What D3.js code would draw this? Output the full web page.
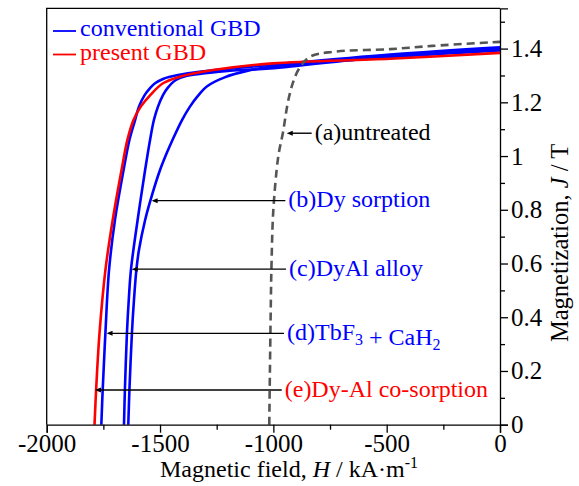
<!DOCTYPE html>
<html>
<head>
<meta charset="utf-8">
<script src="https://cdn.jsdelivr.net/npm/d3@7"></script>
<style>
  body { margin: 0; background: #fff; }
  svg { display: block; font-family: "Liberation Serif", "Times New Roman", serif; }
</style>
</head>
<body>
<svg id="chart" width="579" height="486"></svg>
<script>
// Demagnetization curves, H in kA/m, J in T
var hA = [-1018, -1012, -1008, -1000, -978, -958, -934, -912, -886, -838, -736, -485, -300, 0];
var jA = [0, 0.4, 0.6, 0.8, 1.0, 1.086, 1.208, 1.277, 1.326, 1.37, 1.388, 1.398, 1.41, 1.425];

var hB = [-1640, -1635, -1624, -1615, -1604, -1593, -1566, -1542, -1500, -1465, -1445, -1403, -1368, -1332, -1292, -1215, -1112, -1015, -485, 0];
var jB = [0, 0.129, 0.341, 0.464, 0.579, 0.65, 0.761, 0.836, 0.948, 1.022, 1.06, 1.134, 1.184, 1.225, 1.26, 1.293, 1.318, 1.332, 1.368, 1.393];

var hC = [-1659, -1655, -1646, -1638, -1628, -1599, -1566, -1544, -1527, -1509, -1487, -1467, -1430, -1385, -1301, -1191, -1015, -485, 0];
var jC = [0, 0.129, 0.341, 0.464, 0.579, 0.761, 0.947, 1.06, 1.134, 1.184, 1.227, 1.253, 1.283, 1.298, 1.308, 1.318, 1.326, 1.372, 1.4];

var hD = [-1759, -1753, -1741, -1725, -1699, -1661, -1635, -1610, -1593, -1568, -1544, -1522, -1487, -1456, -1377, -1257, -1015, -485, 0];
var jD = [0, 0.129, 0.341, 0.575, 0.761, 0.947, 1.06, 1.134, 1.184, 1.227, 1.253, 1.271, 1.287, 1.295, 1.308, 1.32, 1.339, 1.378, 1.405];

var hE = [-1789, -1782, -1767, -1741, -1709, -1670, -1644, -1617, -1585, -1543, -1487, -1414, -1266, -1002, -485, 0];
var jE = [0, 0.129, 0.341, 0.575, 0.761, 0.947, 1.06, 1.134, 1.184, 1.227, 1.271, 1.295, 1.32, 1.345, 1.362, 1.384];

// Annotations: label, J level of the arrow, arrow tip and tail (H)
var annLabels = ["(a)untreated", "(b)Dy sorption", "(c)DyAl alloy", "(d)TbF3 + CaH2", "(e)Dy-Al co-sorption"];
var annJ = [1.085, 0.834, 0.579, 0.34, 0.129];
var annTipH = [-941, -1537, -1625, -1736, -1787];
var annTailH = [-831, -947, -944, -953, -963];

var legendLabels = ["conventional GBD", "present GBD"];

var xTicks = [-2000, -1500, -1000, -500, 0];
var xMinor = [-1750, -1250, -750, -250];
var yTicks = [0, 0.2, 0.4, 0.6, 0.8, 1, 1.2, 1.4];
var yMinor = [0.1, 0.3, 0.5, 0.7, 0.9, 1.1, 1.3, 1.5];

(function(){
    var blue = "#0000ff", red = "#ff0000", grey = "#555555";

    var svg = d3.select("#chart");

    //Plot area
    var pL = 46.7, pR = 500, pT = 8.3, pB = 424.7;

    var x = d3.scaleLinear().domain([-2000, 0]).range([pL, pR]);
    var y = d3.scaleLinear().domain([0, 1.55]).range([pB, pT]);

    var line = d3.line()
        .x(function(d){ return x(d[0]); })
        .y(function(d){ return y(d[1]); })
        .curve(d3.curveCatmullRom.alpha(0.5));

    function pairs(h, j){
        return h.map(function(v, i){ return [v, j[i]]; });
    }

    //Frame top and left
    svg.append("path")
        .attr("d", "M" + pL + "," + pB + "V" + pT + "H" + pR)
        .attr("fill", "none")
        .attr("stroke", "#000")
        .attr("stroke-width", 1.3);

    //Curves
    var curves = [
        {d: pairs(hB, jB), c: blue},
        {d: pairs(hC, jC), c: blue},
        {d: pairs(hD, jD), c: blue},
        {d: pairs(hE, jE), c: red}
    ];
    curves.forEach(function(cv){
        svg.append("path")
            .attr("d", line(cv.d))
            .attr("fill", "none")
            .attr("stroke", cv.c)
            .attr("stroke-width", 2.6);
    });

    svg.append("path")
        .attr("d", line(pairs(hA, jA)))
        .attr("fill", "none")
        .attr("stroke", grey)
        .attr("stroke-width", 2.6)
        .attr("stroke-dasharray", "8,5");

    //Axes
    function fmt(d){ return String(+d.toFixed(1)); }

    svg.append("g")
        .attr("transform", "translate(0," + pB + ")")
        .call(d3.axisBottom(x).tickValues(xTicks).tickSize(8).tickPadding(2).tickFormat(fmt));
    svg.append("g")
        .attr("transform", "translate(0," + pB + ")")
        .call(d3.axisBottom(x).tickValues(xMinor).tickSize(5).tickFormat(""))
        .select(".domain").remove();

    svg.append("g")
        .attr("transform", "translate(" + pR + ",0)")
        .call(d3.axisRight(y).tickValues(yTicks).tickSize(8).tickPadding(3).tickFormat(fmt));
    svg.append("g")
        .attr("transform", "translate(" + pR + ",0)")
        .call(d3.axisRight(y).tickValues(yMinor).tickSize(5).tickFormat(""))
        .select(".domain").remove();

    svg.selectAll(".tick line").attr("stroke-width", 1.3);
    svg.selectAll(".domain").attr("stroke-width", 1.3);
    svg.selectAll(".tick text")
        .attr("font-family", "Liberation Serif")
        .attr("font-size", 25)
        .attr("fill", "#000");

    //Axis titles
    var xt = svg.append("text")
        .attr("x", 289)
        .attr("y", 477)
        .attr("text-anchor", "middle")
        .attr("font-size", 24);
    xt.append("tspan").text("Magnetic field, ");
    xt.append("tspan").attr("font-style", "italic").text("H");
    xt.append("tspan").text(" / kA\u00b7m");
    xt.append("tspan").attr("font-size", 16).attr("dy", -9).text("-1");

    var yt = svg.append("text")
        .attr("transform", "translate(568,243) rotate(-90)")
        .attr("text-anchor", "middle")
        .attr("font-size", 24.5);
    yt.append("tspan").text("Magnetization, ");
    yt.append("tspan").attr("font-style", "italic").text("J");
    yt.append("tspan").text(" / T");

    //Legend
    [blue, red].forEach(function(c, i){
        var by = 36 + i * 23.5;
        svg.append("line")
            .attr("x1", 53).attr("x2", 76)
            .attr("y1", by - 5).attr("y2", by - 5)
            .attr("stroke", c)
            .attr("stroke-width", 1.8);
        svg.append("text")
            .attr("x", 80)
            .attr("y", by)
            .attr("font-size", 24)
            .attr("fill", c)
            .text(legendLabels[i]);
    });

    //Annotations with arrows
    var annColors = ["#000", blue, blue, blue, red];
    annLabels.forEach(function(label, i){
        var ay = y(annJ[i]);
        var tip = x(annTipH[i]);
        var tail = x(annTailH[i]);
        svg.append("line")
            .attr("x1", tip + 4).attr("x2", tail)
            .attr("y1", ay).attr("y2", ay)
            .attr("stroke", "#000")
            .attr("stroke-width", 1.4);
        svg.append("path")
            .attr("d", "M" + tip + "," + ay + "l6,-2.5v5z")
            .attr("fill", "#000");

        var t = svg.append("text")
            .attr("x", tail + 3)
            .attr("y", ay + 6.5)
            .attr("font-size", 24)
            .attr("fill", annColors[i]);
        //Digits right after letters are subscripts
        label.split(/([A-Za-z])(\d)/).forEach(function(part, k){
            if(part === "") return;
            if(k % 3 === 2){
                t.append("tspan").attr("font-size", 16).attr("dy", 5).text(part);
                t.append("tspan").attr("dy", -5).text("");
            } else {
                t.append("tspan").text(part);
            }
        });
    });
})();
</script>
</body>
</html>
